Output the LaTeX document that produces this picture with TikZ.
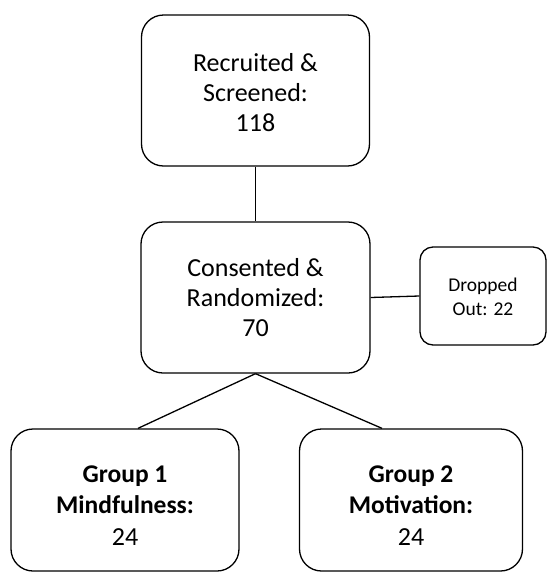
\documentclass[tikz,border=0pt]{standalone}
\usepackage{fontspec}
\setmainfont{Carlito}
\begin{document}
\begin{tikzpicture}[x=1pt,y=-1pt,
  line width=1.3pt,
  bigbox/.style={draw, rounded corners=22pt, inner sep=0pt},
  smallbox/.style={draw, rounded corners=13pt, inner sep=0pt},
  bigtext/.style={align=center, inner sep=0pt, font=\fontsize{26}{30}\selectfont},
  grouptext/.style={align=center, inner sep=0pt, font=\fontsize{25.5}{31.5}\selectfont},
  smalltext/.style={align=center, inner sep=0pt, font=\fontsize{19.5}{24}\selectfont},
  link/.style={draw, line width=1.3pt}]
  \useasboundingbox (0,0) rectangle (547,574);

  % boxes
  \node[bigbox, minimum width=228pt, minimum height=151pt] (rec) at (255.5,90.5) {};
  \node[bigbox, minimum width=229pt, minimum height=151pt] (con) at (255.5,297.5) {};
  \node[smallbox, minimum width=126pt, minimum height=98pt] (drop) at (483,296) {};
  \node[bigbox, minimum width=228pt, minimum height=142pt] (g1) at (125,500) {};
  \node[bigbox, minimum width=223pt, minimum height=142pt] (g2) at (411,500) {};

  % box texts
  \node[bigtext] (rect) at ([yshift=-2pt]rec.center) {Recruited \&\\Screened:\\118};
  \node[bigtext] (cont) at ([yshift=-0.5pt]con.center) {Consented \&\\Randomized:\\70};
  \node[smalltext] (dropt) at ([yshift=-1pt]drop.center) {Dropped\\Out: 22};
  \node[grouptext] (g1t) at ([yshift=-5.5pt]g1.center)
    {\textbf{Group 1}\\\textbf{Mindfulness:}\\{\fontsize{26}{31.5}\selectfont 24}};
  \node[grouptext] (g2t) at ([yshift=-5.5pt]g2.center)
    {\textbf{Group 2}\\\textbf{Motivation:}\\{\fontsize{26}{31.5}\selectfont 24}};

  % connectors
  \draw[link] (rec.south) -- (con.north);
  \draw[link] (con.east) -- (drop.west);
  \draw[link] (con.south) -- ([xshift=13pt]g1.north);
  \draw[link] (con.south) -- ([xshift=-29pt]g2.north);
\end{tikzpicture}
\end{document}
